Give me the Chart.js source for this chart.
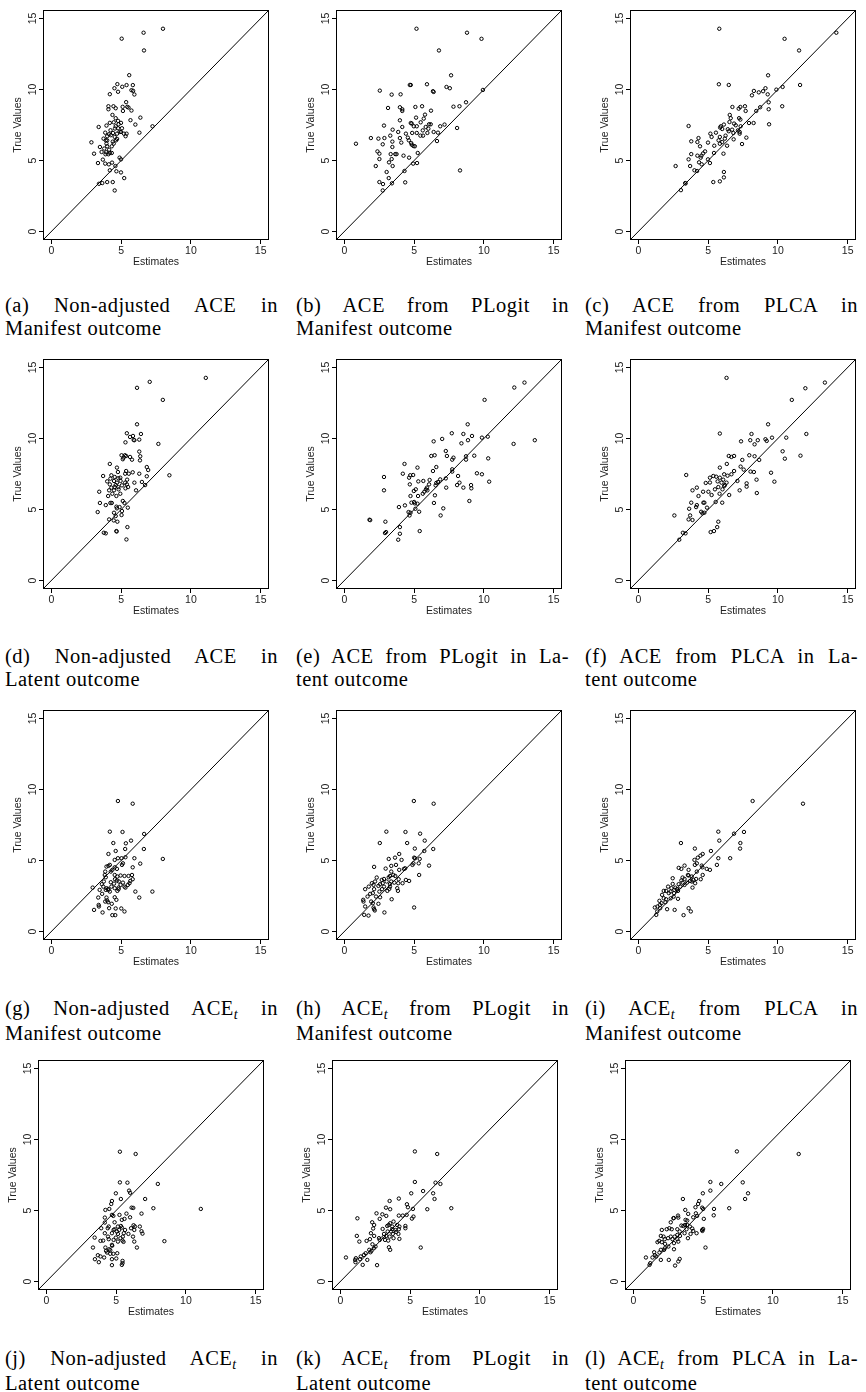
<!DOCTYPE html>
<html>
<head>
<meta charset="utf-8">
<script src="https://cdn.jsdelivr.net/npm/chart.js@4.4.0/dist/chart.umd.min.js"></script>
<style>
  body { margin: 0; width: 866px; height: 1392px; background: #fff; position: relative; overflow: hidden; }
  canvas { position: absolute; }
  .cap { position: absolute; width: 273px; font-family: "Liberation Serif", "Times New Roman", serif; font-size: 20.5px; letter-spacing: 0.5px; line-height: 23px; color: #000; }
  .cap .l1 { text-align: justify; text-align-last: justify; white-space: nowrap; }
  .cap .l2 { text-align: left; white-space: nowrap; }
  .sub { font-style: italic; font-size: 14px; position: relative; top: 4px; }
</style>
</head>
<body>
<script>
// tick labels and axis range shared by all twelve panels
var tickValues = [0, 5, 10, 15];
var axisMin = -0.6, axisMax = 15.6;

// (a) Non-adjusted ACE, manifest outcome
var estA = [8.0,6.61,5.04,6.64,5.58,4.73,5.39,5.84,4.52,5.08,5.74,5.86,4.78,5.95,4.19,5.36,4.09,4.45,4.61,5.11,5.44,5.13,5.74,4.09,4.38,4.61,6.38,5.67,4.99,4.47,4.82,3.95,3.39,6.02,7.25,4.19,4.61,4.78,4.56,5.06,4.99,5.2,5.32,5.39,6.31,3.86,4.14,4.0,4.26,4.54,4.71,4.64,3.74,2.87,3.48,3.95,4.0,4.4,4.47,4.33,3.93,4.19,3.88,4.09,3.06,4.33,4.89,4.99,3.69,3.86,4.12,4.35,3.34,4.59,4.19,4.66,4.99,5.22,3.41,3.65,4.0,4.4,4.54,3.9,4.24,4.42,4.89,4.71,3.79,4.14,4.0,5.53,4.78,3.6];
var trueA = [14.28,14.0,13.58,12.75,11.01,10.38,10.31,10.31,10.09,10.19,9.95,9.91,9.84,9.65,9.67,9.11,8.82,8.82,8.68,8.78,8.78,8.49,8.52,8.61,8.21,7.98,8.02,7.84,7.65,7.69,7.55,7.46,7.36,7.53,7.41,7.65,7.41,7.27,7.25,7.27,7.01,6.89,6.71,6.89,6.96,6.96,6.85,6.71,6.78,6.66,6.52,6.42,6.54,6.28,5.95,6.19,6.0,6.33,6.19,6.0,5.58,5.53,5.44,5.44,5.48,5.53,5.2,5.08,5.06,4.78,4.73,4.85,4.82,4.61,4.31,4.24,4.16,3.76,3.36,3.41,3.48,3.48,2.89,6.42,7.13,6.94,7.01,6.89,5.84,5.76,6.42,8.73,7.79,5.6];

// (b) ACE from PLogit, manifest outcome
var estB = [5.17,8.79,9.83,6.78,7.65,7.32,7.56,4.69,4.76,5.92,6.35,6.4,2.54,3.39,4.03,9.93,8.72,3.13,3.98,4.15,4.15,5.09,5.57,6.21,7.82,8.25,5.78,5.14,5.69,3.98,5.47,4.76,4.83,6.07,6.19,2.84,4.15,3.46,4.98,5.19,7.18,6.87,8.08,5.83,5.62,6.02,3.86,4.41,4.86,5.19,5.95,6.71,6.4,3.29,3.98,1.9,2.44,2.87,4.55,4.62,5.45,5.64,6.64,0.83,2.75,3.44,4.08,4.79,4.83,4.95,5.05,3.44,2.37,2.51,3.32,3.65,3.74,5.26,4.24,4.64,2.51,3.39,3.2,4.93,5.21,2.25,3.46,3.03,4.31,8.29,3.18,2.51,4.36,2.77,3.41,2.75];
var trueB = [14.28,14.0,13.57,12.75,11.0,10.18,10.09,10.32,10.32,10.37,9.88,9.83,9.92,9.64,9.66,9.97,9.1,8.7,8.75,8.61,8.49,8.77,8.82,8.51,8.79,8.82,8.23,8.02,7.95,7.83,7.69,7.64,7.6,7.55,7.55,7.46,7.36,7.17,7.41,7.41,7.53,7.41,7.29,7.36,7.12,7.24,7.01,6.89,6.94,6.94,6.94,6.96,7.01,6.75,6.58,6.58,6.54,6.58,6.61,6.42,6.75,6.75,6.37,6.18,6.14,6.33,6.26,6.23,6.11,6.02,6.0,5.95,5.64,5.48,5.45,5.45,5.45,5.53,5.34,5.2,5.1,5.1,4.87,4.78,4.82,4.61,4.61,4.19,4.26,4.3,3.76,3.48,3.46,3.34,3.39,2.89];

// (c) ACE from PLCA, manifest outcome
var estC = [5.8,14.19,10.48,11.52,9.3,5.77,6.48,11.59,10.34,9.11,9.89,8.28,8.94,8.63,9.27,8.14,9.34,10.31,8.73,7.64,7.31,6.74,7.19,9.34,8.45,7.69,6.55,6.62,7.22,7.31,6.53,7.93,8.26,9.37,3.6,5.91,6.13,6.86,6.98,7.33,5.86,6.01,7.14,7.26,6.41,6.48,5.56,6.81,7.26,5.16,5.25,4.31,5.84,6.25,7.74,6.2,6.83,3.79,4.23,4.99,5.75,6.01,5.84,7.43,4.42,5.44,6.36,4.23,4.78,3.79,4.64,4.52,5.42,6.1,4.47,3.6,4.99,5.13,4.35,4.54,2.67,3.71,4.02,4.21,6.13,6.13,3.36,3.38,5.37,5.84,3.05,6.72];
var trueC = [14.28,14.0,13.57,12.75,11.0,10.37,10.32,10.32,10.18,10.09,9.99,9.9,9.88,9.8,9.66,9.59,9.1,8.82,8.75,8.82,8.77,8.77,8.65,8.61,8.49,8.49,8.21,7.98,7.98,7.88,7.71,7.64,7.64,7.55,7.43,7.41,7.53,7.6,7.48,7.41,7.32,7.22,7.12,7.01,7.2,7.06,6.96,6.94,6.89,6.89,6.66,6.58,6.66,6.75,6.61,6.54,6.49,6.35,6.3,6.26,6.42,6.3,6.18,6.16,6.0,6.04,6.04,5.34,5.64,5.45,5.5,5.34,5.53,5.48,5.2,5.08,5.08,4.82,4.87,4.73,4.61,4.61,4.31,4.26,4.19,3.81,3.41,3.38,3.48,3.53,2.91,7.17];

// (d) Non-adjusted ACE, latent outcome
var estD = [11.07,7.05,6.14,7.99,6.14,5.41,6.42,5.85,5.64,5.95,5.9,6.3,5.31,7.67,6.3,5.03,5.27,5.36,5.64,6.37,5.17,5.12,5.78,6.35,4.19,4.7,6.84,6.94,4.77,5.36,5.83,5.29,5.55,6.3,3.71,4.3,8.46,4.54,6.84,4.23,4.94,5.43,4.96,4.0,4.49,4.7,5.29,5.95,6.49,4.61,5.41,6.72,4.19,5.06,4.8,4.54,4.3,5.31,5.5,3.43,4.14,4.49,4.82,6.07,4.37,4.94,4.07,4.66,5.12,3.48,4.23,4.33,3.9,5.24,4.89,4.7,5.48,5.06,3.32,4.49,5.03,4.61,4.14,4.47,4.73,5.45,3.76,3.9,4.66,4.68,5.38,4.66,4.8];
var trueD = [14.27,13.99,13.57,12.72,11.0,10.37,10.32,10.18,10.11,9.88,9.9,9.92,9.73,9.62,9.08,8.82,8.82,8.77,8.7,8.75,8.65,8.54,8.51,8.46,8.21,7.95,7.99,7.78,7.64,7.71,7.62,7.52,7.52,7.52,7.36,7.41,7.41,7.29,7.34,7.17,7.24,7.1,7.01,6.98,7.01,6.89,6.89,6.89,6.94,6.72,6.77,6.72,6.77,6.7,6.58,6.58,6.54,6.49,6.58,6.25,6.35,6.35,6.42,6.35,6.11,6.11,5.95,5.95,5.6,5.46,5.46,5.46,5.31,5.46,5.17,5.08,5.13,4.89,4.82,4.77,4.61,4.54,4.3,4.23,4.14,3.76,3.36,3.32,3.48,3.45,2.89,5.2,7.2];

// (e) ACE from PLogit, latent outcome
var estE = [12.91,12.18,10.05,8.84,7.7,8.53,9.15,10.28,7.01,9.86,6.4,8.39,8.86,12.13,13.65,7.27,7.35,6.23,6.47,7.82,9.31,8.72,8.72,10.31,7.73,4.31,5.24,6.59,7.73,7.73,8.15,4.19,4.72,4.93,2.84,4.64,9.5,9.86,6.35,5.3,5.66,10.38,7.27,6.87,6.11,6.71,6.59,8.25,4.69,5.12,4.98,5.85,5.95,5.73,5.62,5.92,9.08,9.1,8.08,7.3,8.53,6.54,2.84,4.74,5.28,6.49,4.81,5.0,5.05,5.24,6.42,3.91,4.34,8.96,7.09,5.09,5.36,4.6,4.74,4.67,6.9,1.8,1.85,2.94,3.98,5.4,2.99,2.91,3.98,3.86,6.07];
var trueE = [13.94,13.59,12.72,11.0,10.37,10.32,10.18,10.13,9.97,10.06,9.8,9.66,9.88,9.62,9.88,9.12,8.77,8.77,8.82,8.65,8.79,8.75,8.51,8.6,8.51,8.21,7.95,7.99,7.83,7.67,7.36,7.52,7.41,7.43,7.29,7.24,7.55,7.48,7.71,6.98,7.01,6.96,7.19,7.12,7.08,6.94,6.87,6.89,6.77,6.42,6.3,6.42,6.35,6.25,6.11,6.54,6.72,6.49,6.72,6.54,6.54,6.7,6.35,5.95,5.95,6.0,5.48,5.53,5.43,5.41,5.46,5.17,5.29,5.6,5.08,5.05,4.84,4.82,4.77,4.58,4.58,4.28,4.25,4.14,3.76,3.48,3.41,3.34,3.29,2.87,6.77];

// (f) ACE from PLCA, latent outcome
var estF = [13.37,11.97,11.0,6.32,9.3,5.84,8.11,9.58,9.11,9.2,8.56,8.02,7.36,8.33,12.04,10.6,10.34,11.62,7.95,8.33,8.66,10.5,6.86,6.48,6.67,7.45,6.34,5.84,7.33,7.55,8.04,8.28,9.51,3.43,5.37,5.58,6.15,6.39,6.86,6.67,5.13,5.84,6.08,7.1,8.47,9.75,4.19,3.88,4.83,5.68,5.96,6.32,6.15,6.03,5.73,5.49,7.26,7.76,7.76,4.64,5.02,4.31,5.25,6.51,5.82,8.49,3.79,4.19,4.14,4.66,4.73,3.64,4.92,5.54,6.01,4.5,4.59,4.73,2.58,3.71,3.88,3.6,5.73,5.65,5.42,5.18,3.19,3.38,2.93,6.2,5.13];
var trueF = [13.94,13.54,12.72,14.27,11.0,10.35,10.32,10.06,9.95,9.83,9.88,9.88,9.8,9.59,10.32,10.06,9.1,8.79,8.82,8.75,8.49,8.58,8.77,8.77,8.7,8.49,8.21,7.95,8.02,7.81,7.67,7.64,7.59,7.43,7.36,7.31,7.48,7.38,7.71,7.48,7.24,7.24,7.1,7.01,7.1,6.96,6.54,6.35,6.87,6.98,6.89,6.89,6.65,6.42,6.58,6.42,6.35,6.61,6.84,6.25,6.25,5.95,6.02,6.02,6.11,6.16,5.48,5.31,5.17,5.48,5.48,5.05,5.13,5.53,5.48,4.84,4.73,4.77,4.58,4.58,4.26,4.3,4.14,3.76,3.48,3.41,3.36,3.32,2.87,6.72,6.9];

// (g) Non-adjusted ACE_t, manifest outcome
var estG = [4.77,5.83,4.19,5.1,6.65,5.71,4.44,5.34,5.29,6.63,4.61,4.09,7.99,5.31,4.77,5.03,5.95,4.54,6.37,5.13,5.06,5.83,4.19,3.95,4.54,4.37,4.26,3.86,4.09,4.7,3.83,4.54,4.73,4.96,5.24,5.53,5.78,3.9,4.56,4.7,5.83,5.66,4.26,4.49,4.84,5.13,5.6,5.48,4.96,5.24,3.72,3.95,4.07,2.96,4.82,4.54,4.09,3.9,4.19,4.82,5.31,4.73,3.46,6.02,7.24,3.64,3.36,3.95,4.54,4.66,6.3,3.86,4.07,4.0,4.33,3.39,3.41,4.14,4.61,5.01,3.06,5.24,3.67,4.37,4.58,3.76,3.62,4.3];
var trueG = [9.19,9.0,7.03,7.01,6.87,6.4,6.23,6.21,5.81,5.81,5.67,5.46,5.11,5.23,5.16,5.16,5.16,5.04,4.78,4.8,4.69,4.52,4.69,4.57,4.52,4.34,4.22,4.22,4.62,4.41,3.98,3.98,3.87,3.94,3.91,3.91,3.98,3.82,3.68,3.59,3.68,3.56,3.47,3.37,3.52,3.44,3.4,3.28,3.28,3.16,3.16,3.05,3.0,3.09,3.09,3.05,2.93,2.93,2.81,2.98,3.09,2.86,2.93,2.81,2.81,2.65,2.39,2.39,2.41,2.23,2.39,2.11,2.06,2.18,1.95,1.87,1.76,1.64,1.62,1.62,1.52,1.41,1.34,1.15,1.15,3.52,3.33,3.16];

// (h) ACE_t from PLogit, manifest outcome
var estH = [4.98,6.4,3.01,4.38,5.43,5.76,2.54,4.5,5.05,6.37,5.73,3.93,3.18,3.63,4.1,5.0,5.07,5.4,2.13,2.96,3.36,3.7,4.95,4.88,6.07,4.27,4.36,5.36,3.36,3.93,3.51,3.65,3.27,3.18,2.32,2.68,2.84,3.89,4.41,4.64,2.2,1.97,2.56,2.75,3.03,3.36,3.58,3.86,4.17,2.09,2.44,2.84,3.27,3.27,3.79,1.75,1.49,2.13,2.7,3.08,3.22,3.84,2.51,1.85,2.04,1.66,2.27,2.56,3.39,1.35,1.37,1.92,2.04,2.44,1.49,2.09,2.13,2.18,5.0,2.87,1.42,1.73,5.33];
var trueH = [9.19,9.0,7.03,7.01,6.89,6.4,6.23,6.23,5.84,5.81,5.67,5.46,5.11,5.2,5.04,5.2,5.16,5.11,4.55,4.43,4.62,4.69,4.8,4.69,4.64,4.41,4.45,3.98,4.22,4.34,3.98,3.91,3.91,3.82,3.8,3.63,3.7,3.68,3.63,3.56,3.52,3.4,3.33,3.4,3.52,3.52,3.44,3.4,3.4,3.28,3.21,3.16,3.33,3.16,3.05,3.16,2.98,2.98,2.98,2.86,3.0,2.86,2.81,2.65,2.7,2.46,2.46,2.41,2.27,2.23,2.11,2.11,1.99,1.95,1.76,1.69,1.57,1.48,1.69,1.34,1.17,1.12,4.8];

// (i) ACE_t from PLCA, manifest outcome
var estI = [8.19,11.8,5.73,7.57,6.86,5.8,3.05,7.31,4.05,7.29,5.2,4.61,4.45,4.26,4.02,5.73,6.58,5.63,4.05,4.19,2.89,3.08,3.31,4.54,4.59,4.9,4.19,4.61,3.55,3.6,3.83,2.46,3.17,3.31,4.14,4.47,3.95,3.08,3.71,3.17,3.48,3.83,4.07,2.46,2.89,3.31,3.0,3.88,2.13,2.37,2.65,1.99,2.58,2.84,2.3,1.82,2.18,1.7,2.56,2.53,2.84,2.32,1.99,1.82,1.51,1.94,1.66,1.54,1.37,1.18,1.56,2.06,2.6,3.6,3.76,1.35,1.28,3.24,2.77,3.6,5.13];
var trueI = [9.19,9.0,7.03,7.01,6.89,6.4,6.23,6.23,5.84,5.84,5.67,5.46,5.34,5.2,5.04,5.16,5.16,4.69,4.69,4.8,4.48,4.41,4.64,4.64,4.52,4.41,4.22,3.98,3.98,3.94,3.87,3.75,3.8,3.7,3.7,3.68,3.63,3.59,3.56,3.44,3.44,3.52,3.4,3.35,3.33,3.28,3.16,3.09,3.16,3.05,3.09,2.86,2.93,2.86,2.81,2.86,2.7,2.58,2.7,2.46,2.3,2.34,2.27,2.34,2.16,2.06,1.99,1.87,1.76,1.69,1.64,1.57,1.52,1.64,1.41,1.41,1.17,1.15,2.98,4.34,4.34];

// (j) Non-adjusted ACE_t, latent outcome
var estJ = [5.27,6.4,5.27,5.81,7.99,5.93,6.0,4.98,7.08,5.34,4.7,4.65,6.11,6.23,7.67,11.07,4.23,4.51,6.82,5.74,5.24,4.8,4.7,4.19,5.6,5.41,6.0,4.89,4.19,4.47,4.4,3.93,5.34,5.41,6.25,6.35,6.07,6.7,6.3,6.82,6.89,5.64,5.22,4.82,5.05,4.19,4.7,5.13,5.55,5.88,6.21,5.48,4.42,3.46,4.98,5.31,4.47,4.82,4.07,5.13,3.88,5.46,5.53,6.3,8.46,4.7,4.72,6.49,3.34,4.23,4.51,4.28,4.35,4.58,5.08,4.8,4.58,3.69,3.88,4.14,3.48,3.76,4.7,5.01,5.46,5.46,4.7,5.41,5.13,4.89];
var trueJ = [9.14,8.98,6.98,6.96,6.87,6.4,6.25,6.21,5.81,5.81,5.67,5.46,5.2,5.18,5.16,5.11,5.04,5.11,4.78,4.78,4.69,4.62,4.69,4.5,4.41,4.34,4.52,4.17,4.15,3.87,3.75,3.75,3.91,3.8,3.96,3.87,3.75,3.87,3.63,3.54,3.37,3.63,3.63,3.63,3.52,3.4,3.4,3.35,3.4,3.35,3.16,3.16,3.16,3.09,3.09,3.05,2.98,2.93,2.88,2.81,2.86,2.88,2.79,2.81,2.84,2.58,2.52,2.39,2.39,2.39,2.27,2.16,2.04,2.2,1.99,1.95,1.95,1.85,1.76,1.69,1.57,1.36,1.57,1.62,1.45,1.29,1.15,1.17,3.87,3.68];

// (k) ACE_t from PLogit, latent outcome
var estK = [5.34,6.94,5.34,6.82,7.17,5.93,5.08,6.65,4.19,6.75,3.53,4.77,3.27,3.57,5.2,6.23,7.95,4.84,2.59,1.22,3.01,3.29,2.82,4.19,4.47,4.75,5.24,5.13,2.28,2.42,3.81,3.57,3.46,3.36,4.07,4.23,3.72,4.66,4.66,4.19,3.95,3.72,2.35,3.03,3.39,3.64,4.0,3.13,3.76,4.16,2.19,2.42,1.18,3.29,3.53,3.81,4.23,2.77,3.1,2.82,3.2,3.43,1.36,1.88,2.12,2.3,2.52,2.07,2.4,2.23,2.16,3.48,3.57,5.76,1.81,1.69,1.46,0.4,1.11,1.06,1.93,1.41,1.08,1.6,2.63];
var trueK = [9.16,8.98,7.01,6.96,6.87,6.37,6.21,6.21,5.84,5.81,5.67,5.44,5.2,5.09,5.11,5.09,5.16,5.23,4.8,4.45,4.73,4.62,4.41,4.64,4.64,4.69,4.57,4.43,4.17,3.98,4.22,4.1,3.98,3.91,3.98,3.87,3.87,3.91,3.75,3.68,3.63,3.68,3.73,3.7,3.52,3.52,3.49,3.35,3.35,3.35,3.4,3.21,3.21,3.21,3.16,3.05,3.0,3.05,3.12,2.93,2.93,2.88,2.81,2.86,2.98,2.62,2.46,2.23,2.34,2.16,2.06,2.41,2.23,2.39,1.99,1.87,1.76,1.69,1.64,1.52,1.52,1.57,1.36,1.17,1.15];

// (l) ACE_t from PLCA, latent outcome
var estL = [7.42,11.85,5.52,7.84,6.3,5.52,4.98,8.22,3.55,8.01,4.72,4.64,6.87,5.78,4.93,5.0,3.72,4.45,5.76,3.93,4.48,3.2,2.68,2.87,2.9,3.22,5.05,4.29,4.57,3.74,3.86,3.7,3.44,3.58,3.86,4.05,3.81,4.22,4.29,5.0,4.95,3.15,3.32,2.58,2.39,2.04,2.75,4.1,3.15,3.34,3.67,2.96,2.68,2.16,1.97,3.91,2.49,2.8,3.15,2.25,1.85,2.04,1.73,3.22,2.91,2.27,2.51,2.25,2.91,2.2,1.97,1.49,1.87,1.54,1.37,1.64,0.9,1.97,2.54,3.32,3.22,5.17,1.21,1.16,2.99,4.93,4.53];
var trueL = [9.16,8.98,7.01,6.98,6.87,6.4,6.21,6.21,5.81,5.81,5.67,5.46,5.16,5.11,5.2,5.11,5.04,5.23,4.66,4.76,4.8,4.64,4.17,4.45,4.47,4.5,4.41,4.52,4.62,4.34,4.29,3.98,3.94,3.91,3.98,3.87,3.68,3.73,3.56,3.7,3.56,3.68,3.52,3.75,3.68,3.63,3.68,3.35,3.28,3.21,3.4,3.16,3.16,3.16,3.21,3.05,3.05,2.98,2.98,2.98,2.86,2.77,2.77,2.81,2.7,2.65,2.46,2.34,2.27,2.23,2.23,2.06,2.04,1.85,1.69,1.76,1.69,1.52,1.52,1.59,1.41,2.39,1.29,1.17,1.12,3.63,3.4];

// captions: first line is justified, second line is flush left
var ACEt = 'ACE<span class="sub">t</span>';
var captions = [
  ['(a) Non-adjusted ACE in', 'Manifest outcome'],
  ['(b) ACE from PLogit in', 'Manifest outcome'],
  ['(c) ACE from PLCA in', 'Manifest outcome'],
  ['(d) Non-adjusted ACE in', 'Latent outcome'],
  ['(e) ACE from PLogit in La-', 'tent outcome'],
  ['(f) ACE from PLCA in La-', 'tent outcome'],
  ['(g) Non-adjusted ' + ACEt + ' in', 'Manifest outcome'],
  ['(h) ' + ACEt + ' from PLogit in', 'Manifest outcome'],
  ['(i) ' + ACEt + ' from PLCA in', 'Manifest outcome'],
  ['(j) Non-adjusted ' + ACEt + ' in', 'Latent outcome'],
  ['(k) ' + ACEt + ' from PLogit in', 'Latent outcome'],
  ['(l) ' + ACEt + ' from PLCA in La-', 'tent outcome']
];

var panels = [
  [estA, trueA], [estB, trueB], [estC, trueC],
  [estD, trueD], [estE, trueE], [estF, trueF],
  [estG, trueG], [estH, trueH], [estI, trueI],
  [estJ, trueJ], [estK, trueK], [estL, trueL]
];

// page layout (plot box corners in page pixels)
var boxTop = [10, 359, 710, 1060];
var boxLeft = [[43, 336, 630], [43, 336, 630], [43, 336, 630], [38, 332, 625]];
var boxW = 226, boxH = 230;
var yAxisW = 42, xAxisH = 34, padTop = 10, padRight = 14;
var capLeft = [5, 296, 585];
var capTop = [294, 645, 997, 1347];

var axisFont = { family: '"Liberation Sans", Arial, Helvetica, sans-serif', size: 10.5 };
var textColor = '#222';

var boxPlugin = {
  id: 'box',
  afterDraw: function (chart) {
    var a = chart.chartArea, ctx = chart.ctx;
    ctx.save();
    ctx.strokeStyle = '#000';
    ctx.lineWidth = 1;
    ctx.strokeRect(Math.round(a.left) + 0.5, Math.round(a.top) + 0.5,
      Math.round(a.right - a.left) - 1, Math.round(a.bottom - a.top) - 1);
    ctx.restore();
  }
};

function fixedTicks(scale) {
  scale.ticks = tickValues.map(function (v) { return { value: v }; });
}

function axisOptions(isY) {
  return {
    type: 'linear',
    min: axisMin,
    max: axisMax,
    afterBuildTicks: fixedTicks,
    afterFit: function (s) { if (isY) s.width = yAxisW; else s.height = xAxisH; },
    grid: { display: true, drawOnChartArea: false, drawTicks: true, tickLength: 4, color: '#000', lineWidth: 1 },
    border: { display: false },
    ticks: isY
      ? { color: textColor, font: axisFont, padding: 0, minRotation: 90, maxRotation: 90, crossAlign: 'center', autoSkip: false }
      : { color: textColor, font: axisFont, padding: 1, minRotation: 0, maxRotation: 0, autoSkip: false },
    title: isY
      ? { display: true, text: 'True Values', color: textColor, font: axisFont, padding: { top: 11, bottom: 0 } }
      : { display: true, text: 'Estimates', color: textColor, font: axisFont, padding: { top: 0, bottom: 5.5 } }
  };
}

panels.forEach(function (p, i) {
  var row = Math.floor(i / 3), col = i % 3;
  var cv = document.createElement('canvas');
  cv.width = boxW + yAxisW + padRight;
  cv.height = boxH + padTop + xAxisH;
  cv.style.left = (boxLeft[row][col] - yAxisW) + 'px';
  cv.style.top = (boxTop[row] - padTop) + 'px';
  document.body.appendChild(cv);

  var pts = p[0].map(function (x, k) { return { x: x, y: p[1][k] }; });

  new Chart(cv, {
    type: 'scatter',
    data: {
      datasets: [
        {
          type: 'line',
          data: [{ x: axisMin, y: axisMin }, { x: axisMax, y: axisMax }],
          borderColor: '#000',
          borderWidth: 1,
          pointRadius: 0,
          fill: false
        },
        {
          data: pts,
          pointStyle: 'circle',
          pointRadius: 1.7,
          pointBorderWidth: 1,
          borderColor: '#000',
          backgroundColor: 'rgba(0,0,0,0)'
        }
      ]
    },
    options: {
      responsive: false,
      animation: false,
      devicePixelRatio: 1,
      layout: { padding: { top: padTop, right: padRight, left: 0, bottom: 0 } },
      plugins: { legend: { display: false }, tooltip: { enabled: false } },
      scales: { x: axisOptions(false), y: axisOptions(true) }
    },
    plugins: [boxPlugin]
  });

  var cap = document.createElement('div');
  cap.className = 'cap';
  cap.style.left = capLeft[col] + 'px';
  cap.style.top = capTop[row] + 'px';
  cap.innerHTML = '<div class="l1">' + captions[i][0] + '</div><div class="l2">' + captions[i][1] + '</div>';
  document.body.appendChild(cap);
});
</script>
</body>
</html>
